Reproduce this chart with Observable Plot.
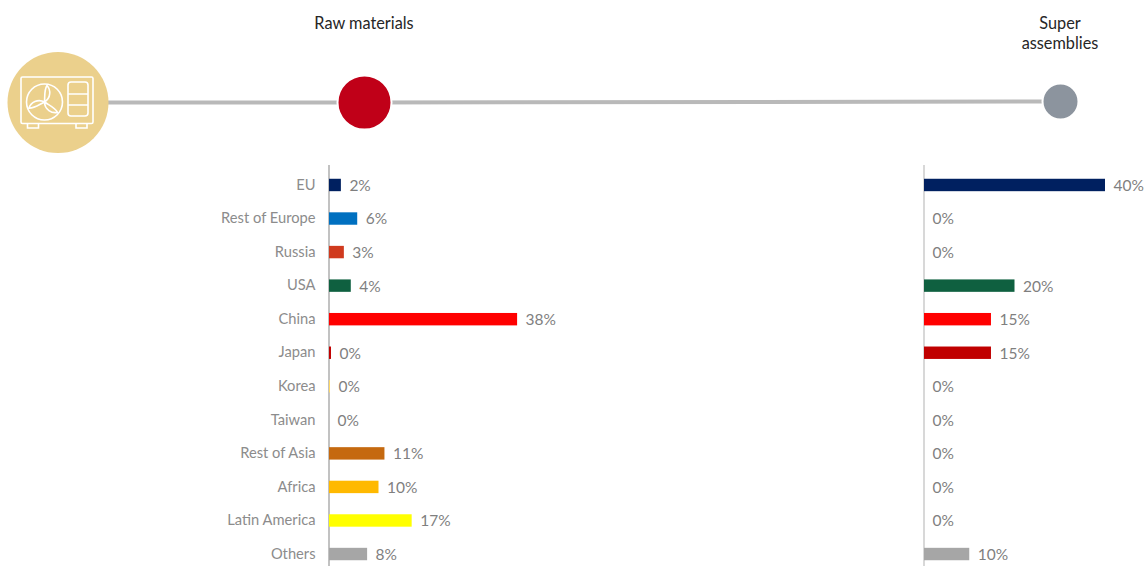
<!DOCTYPE html>
<html>
<head>
<meta charset="utf-8">
<script src="https://cdn.jsdelivr.net/npm/d3@7"></script>
<script src="https://cdn.jsdelivr.net/npm/@observablehq/plot@0.6"></script>
<style>
html,body{margin:0;padding:0;background:#fff;overflow:hidden}
#chart{position:relative;width:1146px;height:566px;overflow:hidden}
#chart svg{position:absolute;left:0;top:0;background:transparent}
</style>
</head>
<body>
<div id="chart"></div>
<script>
const categories = ["EU","Rest of Europe","Russia","USA","China","Japan","Korea","Taiwan","Rest of Asia","Africa","Latin America","Others"];
const rawValues = [2.4,5.7,3.0,4.4,38,0.4,0.2,0,11.2,10,16.7,7.7];
const rawLabels = ["2%","6%","3%","4%","38%","0%","0%","0%","11%","10%","17%","8%"];
const superValues = [40,0,0,20,14.8,14.8,0,0,0,0,0,10];
const superLabels = ["40%","0%","0%","20%","15%","15%","0%","0%","0%","0%","0%","10%"];
const barColors = ["#002060","#0070c0","#d03a1e","#0f6040","#ff0000","#c00000","#ffd966","#ffffff","#c5690f","#ffb900","#ffff00","#a6a6a6"];
const stages = ["Raw materials","Super\nassemblies"];
const stageColors = ["#c00018","#8c949e"];

const W = 1146, H = 566;
const FONT = "Lato, 'Noto Sans', sans-serif";
const yScale = {domain:categories, range:[168.2,570.8], paddingInner:0.63, paddingOuter:0.315, round:false, label:null, axis:null};

function panel(values, labels, xDomain, xRange, axisColor, withNames){
  const rows = categories.map((c,i)=>({c, v:values[i], l:labels[i]}));
  const marks = [
    Plot.ruleX([0],{stroke:axisColor, strokeWidth:1.4, dx:-0.5}),
    Plot.barX(rows,{x:"v", y:"c", fill:"c"}),
    Plot.text(rows,{x:"v", y:"c", text:"l", textAnchor:"start", dx:8, dy:0.5, fill:"#7f7f7f", fontSize:15.5})
  ];
  if (withNames) marks.push(Plot.axisY({anchor:"left", tickSize:0, tickPadding:14, fontSize:14.7, color:"#8c8c8c", label:null, dy:-0.5}));
  return Plot.plot({
    width:W, height:H, margin:0, marginLeft:xRange[0], marginTop:165,
    style:{fontFamily:FONT, background:"transparent", overflow:"visible"},
    x:{domain:xDomain, range:xRange, axis:null},
    y:yScale,
    color:{type:"ordinal", domain:categories, range:barColors},
    marks
  });
}

function header(){
  const nodes = [
    {name:"start", x:57.5, y:102, r:50.5, fill:"#ebd08c", stroke:"none"},
    {name:stages[0], x:364, y:102, r:27, fill:stageColors[0], stroke:"#fff"},
    {name:stages[1], x:1060, y:101, r:18, fill:stageColors[1], stroke:"#fff"}
  ];
  const names = [
    {t:stages[0], x:363.5, y:23},
    {t:"Super", x:1059.5, y:23.5},
    {t:"assemblies", x:1059.5, y:43.5}
  ];
  const icon = () => {
    const g = d3.create("svg:g").attr("fill","none").attr("stroke","#fff").attr("stroke-width",1.6);
    g.append("rect").attr("x",21).attr("y",77).attr("width",72).attr("height",46.5).attr("rx",1.5);
    g.append("circle").attr("cx",44.5).attr("cy",102).attr("r",18);
    g.append("rect").attr("x",68).attr("y",82).attr("width",20).attr("height",34).attr("rx",3);
    g.append("path").attr("d","M68 94H88M68 105H88");
    g.append("path").attr("d","M27.5 124V128H38.5V124M76 124V128H87V124");
    const blade = "M44.5 102C45 96 44 90 47 85.5C51 90 51 98 44.5 102Z";
    [0,120,240].forEach(a=>g.append("path").attr("d",blade).attr("transform",`rotate(${a} 44.5 102)`));
    return g.node();
  };
  return Plot.plot({
    width:W, height:H, margin:0,
    style:{fontFamily:FONT, background:"transparent", overflow:"visible"},
    x:{type:"identity", axis:null}, y:{type:"identity", axis:null}, r:{type:"identity"},
    marks:[
      Plot.line(nodes,{x:"x", y:"y", stroke:"#b9b9b9", strokeWidth:4}),
      Plot.dot(nodes,{x:"x", y:"y", r:"r", fill:"fill", stroke:"stroke", strokeWidth:2}),
      icon,
      Plot.text(names,{x:"x", y:"y", text:"t", fill:"#262626", fontSize:16.3})
    ]
  });
}

const root = document.getElementById("chart");
root.append(header());
root.append(panel(rawValues, rawLabels, [0,100], [329,824], "#a8a8a8", true));
root.append(panel(superValues, superLabels, [0,40], [924,1105], "#c8c8c8", false));
</script>
</body>
</html>
